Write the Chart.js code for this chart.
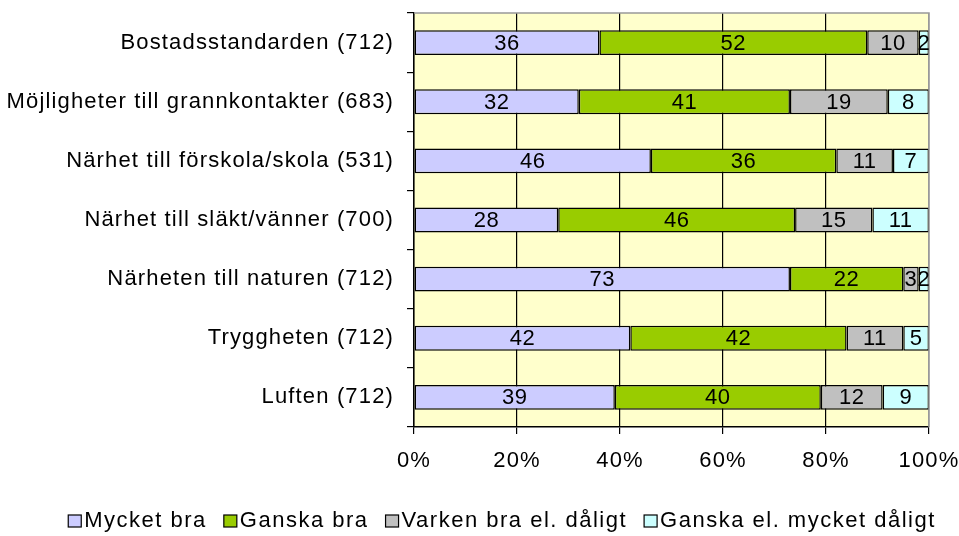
<!DOCTYPE html>
<html>
<head>
<meta charset="utf-8">
<script src="https://cdn.jsdelivr.net/npm/chart.js@4"></script>
<style>
  html, body { margin: 0; padding: 0; background: #fff; }
  #wrap { width: 959px; height: 536px; }
</style>
</head>
<body>
<div id="wrap"><canvas id="chart" width="959" height="536"></canvas></div>
<script>
const categories = [
  "Bostadsstandarden (712)",
  "Möjligheter till grannkontakter (683)",
  "Närhet till förskola/skola (531)",
  "Närhet till släkt/vänner (700)",
  "Närheten till naturen (712)",
  "Tryggheten (712)",
  "Luften (712)"
];
const seriesNames = ["Mycket bra", "Ganska bra", "Varken bra el. dåligt", "Ganska el. mycket dåligt"];
const mycketBra = [36, 32, 46, 28, 73, 42, 39];
const ganskaBra = [52, 41, 36, 46, 22, 42, 40];
const varken = [10, 19, 11, 15, 3, 11, 12];
const daligt = [2, 8, 7, 11, 2, 5, 9];
const xTicks = [0, 20, 40, 60, 80, 100];

const colors = ["#CCCCFF", "#99CC00", "#C0C0C0", "#CCFFFF"];
const FONT = "'Liberation Sans', Arial, sans-serif";
const FSIZE = 22;
const SPACING = "1.15px";

// excel-ish wide letter spacing, set before layout measures text
const spacing = {
  id: "spacing",
  beforeLayout(chart) { chart.ctx.letterSpacing = SPACING; },
  beforeDraw(chart) { chart.ctx.letterSpacing = SPACING; }
};

const plotBg = {
  id: "plotBg",
  beforeDraw(chart) {
    const { ctx, chartArea: a } = chart;
    ctx.save();
    ctx.fillStyle = "#FFFFCC";
    ctx.fillRect(a.left, a.top, a.right - a.left, a.bottom - a.top);
    ctx.restore();
  },
  afterDatasetsDraw(chart) {
    const { ctx, chartArea: a } = chart;
    ctx.save();
    ctx.strokeStyle = "#999";
    ctx.lineWidth = 1.5;
    ctx.beginPath();
    ctx.moveTo(a.left, a.top);
    ctx.lineTo(a.right, a.top);
    ctx.lineTo(a.right, a.bottom);
    ctx.stroke();
    ctx.restore();
  }
};

// labels in the middle of each bar piece
const barLabels = {
  id: "barLabels",
  afterDatasetsDraw(chart) {
    const ctx = chart.ctx;
    ctx.save();
    ctx.font = FSIZE + "px " + FONT;
    ctx.letterSpacing = "0.5px";
    ctx.fillStyle = "#000";
    ctx.textAlign = "center";
    ctx.textBaseline = "middle";
    chart.data.datasets.forEach((ds, i) => {
      chart.getDatasetMeta(i).data.forEach((bar, j) => {
        const cx = (bar.x + bar.base) / 2;
        ctx.fillText(String(ds.data[j]), cx, bar.y + 1);
      });
    });
    ctx.restore();
  }
};

// legend drawn by hand: small boxes tight against the text
const bottomLegend = {
  id: "bottomLegend",
  afterDraw(chart) {
    const ctx = chart.ctx;
    ctx.save();
    ctx.font = FSIZE + "px " + FONT;
    ctx.letterSpacing = "1.5px";
    ctx.textBaseline = "middle";
    ctx.textAlign = "left";
    const box = 13, gap = 3, itemGap = 17;
    const widths = seriesNames.map(n => ctx.measureText(n).width);
    const total = widths.reduce((s, w) => s + box + gap + w, 0) + itemGap * (seriesNames.length - 1);
    let x = 502 - total / 2;
    const y = 521;
    seriesNames.forEach((n, i) => {
      ctx.fillStyle = colors[i];
      ctx.fillRect(x, y - 6, box, box - 1);
      ctx.strokeStyle = "#000";
      ctx.lineWidth = 1.2;
      ctx.strokeRect(x, y - 6, box, box - 1);
      ctx.fillStyle = "#000";
      ctx.fillText(n, x + box + gap, y);
      x += box + gap + widths[i] + itemGap;
    });
    ctx.restore();
  }
};

const datasets = [mycketBra, ganskaBra, varken, daligt].map((vals, i) => ({
  label: seriesNames[i],
  data: vals,
  backgroundColor: colors[i],
  borderColor: "#000",
  borderWidth: 1.5,
  borderSkipped: false,
  barPercentage: 0.42,
  categoryPercentage: 1
}));

new Chart(document.getElementById("chart"), {
  type: "bar",
  data: { labels: categories, datasets: datasets },
  options: {
    indexAxis: "y",
    responsive: false,
    animation: false,
    layout: { padding: { top: 13, right: 30, bottom: 61, left: 0 } },
    plugins: {
      legend: { display: false },
      tooltip: { enabled: false }
    },
    scales: {
      x: {
        stacked: true,
        min: 0,
        max: 100,
        afterBuildTicks: s => { s.ticks = xTicks.map(v => ({ value: v })); },
        afterFit: s => {
          s.height = 48;
          s.paddingLeft = 0;
          s.paddingRight = 0;
        },
        border: { color: "#000", width: 1.5 },
        grid: {
          color: c => (c.tick && c.tick.value === 100 ? "#999" : "#000"),
          tickColor: "#000",
          tickLength: 7,
          lineWidth: 1.2
        },
        ticks: {
          color: "#000",
          font: { family: FONT, size: FSIZE },
          padding: 14,
          callback: v => v + "%"
        }
      },
      y: {
        stacked: true,
        afterFit: s => {
          s.width = 414;
          s.paddingTop = 0;
          s.paddingBottom = 0;
        },
        border: { color: "#000", width: 1.5 },
        grid: {
          drawOnChartArea: false,
          offset: true,
          tickColor: "#000",
          tickLength: 7,
          lineWidth: 1.2
        },
        ticks: {
          color: "#000",
          font: { family: FONT, size: FSIZE },
          padding: 13
        }
      }
    }
  },
  plugins: [spacing, plotBg, barLabels, bottomLegend]
});
</script>
</body>
</html>
